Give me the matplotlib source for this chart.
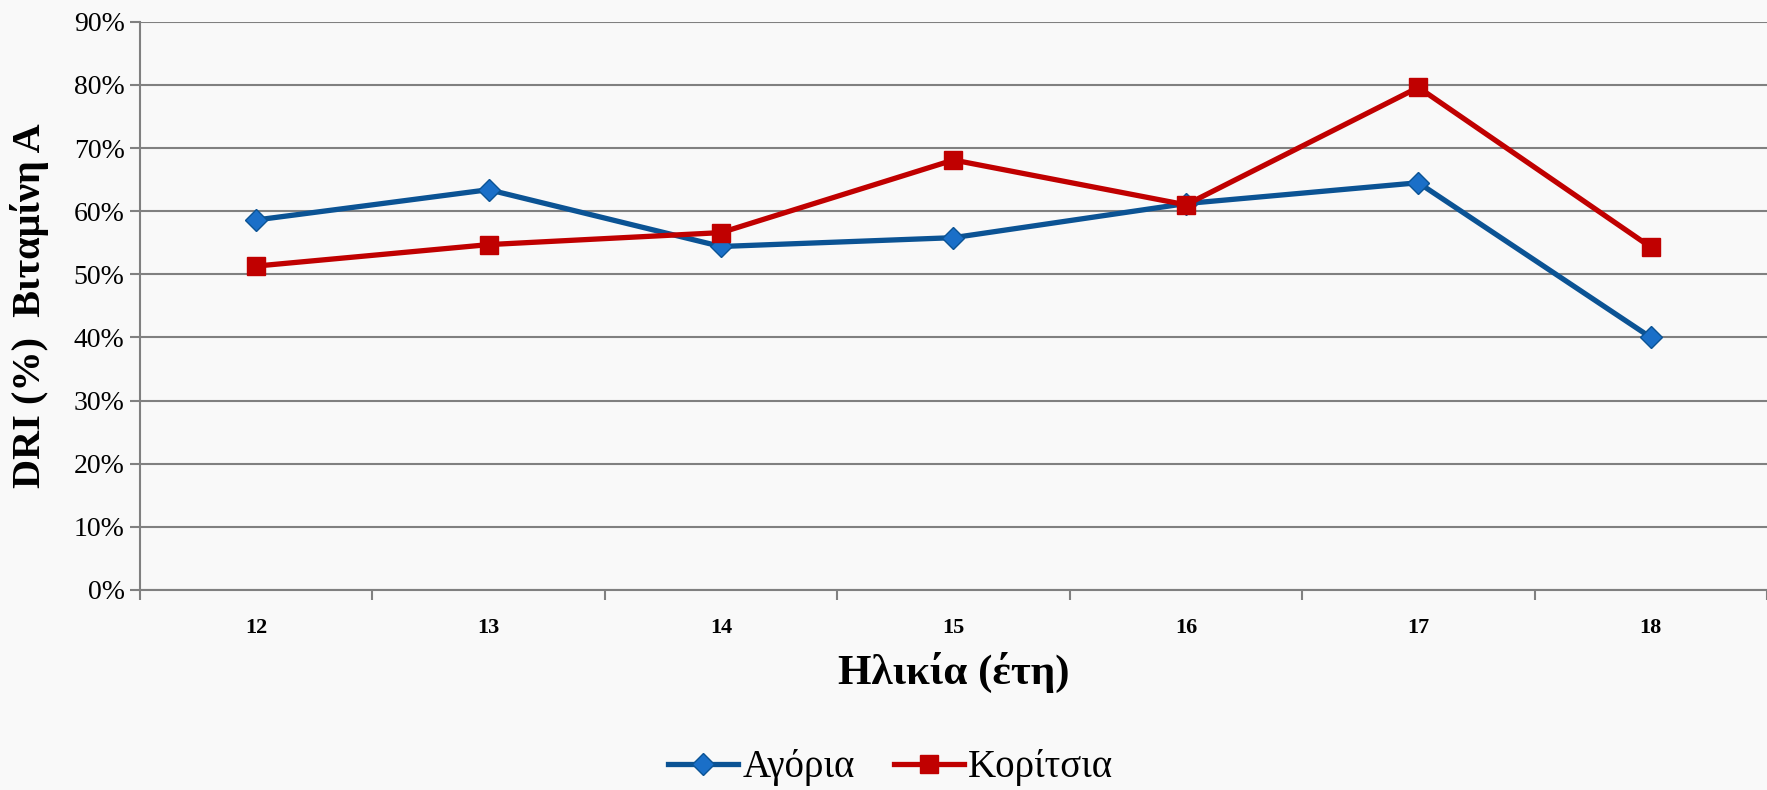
import matplotlib.pyplot as plt
from matplotlib.ticker import FuncFormatter, FixedLocator

ages = ['12', '13', '14', '15', '16', '17', '18']
boys = [58.6, 63.4, 54.4, 55.8, 61.2, 64.5, 40.0]
girls = [51.3, 54.7, 56.6, 68.1, 61.0, 79.6, 54.3]

plt.rcParams['font.family'] = ['Liberation Serif', 'DejaVu Serif']

fig = plt.figure(figsize=(17.67, 7.9), dpi=100, facecolor='#f9f9f9')
ax = fig.add_axes([0.0792, 0.2532, 0.9208, 0.7193])
ax.set_facecolor('#f9f9f9')

x = range(len(ages))
ax.plot(x, boys, color='#0b5394', lw=3.8, marker='D', markersize=11,
        markerfacecolor='#1a6fc8', markeredgecolor='#0b5394', markeredgewidth=1,
        label='Αγόρια', zorder=3)
ax.plot(x, girls, color='#c00000', lw=3.8, marker='s', markersize=13,
        markerfacecolor='#c00000', markeredgecolor='#c00000',
        label='Κορίτσια', zorder=3)

ax.set_xlim(-0.5, len(ages) - 0.5)
ax.set_ylim(0, 90)
ax.set_yticks(range(0, 91, 10))
ax.yaxis.set_major_formatter(FuncFormatter(lambda v, p: f'{int(v)}%'))
ax.grid(axis='y', color='#808080', lw=1.5)
ax.set_axisbelow(True)

ax.set_xticks(list(x))
ax.set_xticklabels(ages, fontsize=16, fontweight='bold')
ax.xaxis.set_minor_locator(FixedLocator([i - 0.5 for i in range(len(ages) + 1)]))
ax.tick_params(axis='x', which='major', length=0, pad=20)
ax.tick_params(axis='x', which='minor', length=7, width=1.5, color='#808080')
ax.tick_params(axis='y', length=7, width=1.5, color='#808080', labelsize=20, pad=4)

for s in ['top', 'right']:
    ax.spines[s].set_visible(False)
for s in ['left', 'bottom']:
    ax.spines[s].set_color('#808080')
    ax.spines[s].set_linewidth(1.5)

ax.set_xlabel('Ηλικία (έτη)', fontsize=31, fontweight='bold', labelpad=10)
ax.set_ylabel('DRI (%)  Βιταμίνη Α', fontsize=29, fontweight='bold')
ax.yaxis.set_label_coords(-0.056, 0.5)

fig.legend(loc='center', bbox_to_anchor=(0.504, 0.028), ncol=2, frameon=False,
           fontsize=28, handlelength=1.8, handletextpad=0.1, columnspacing=1.0)

fig.savefig('out.png', dpi=100, facecolor=fig.get_facecolor())
